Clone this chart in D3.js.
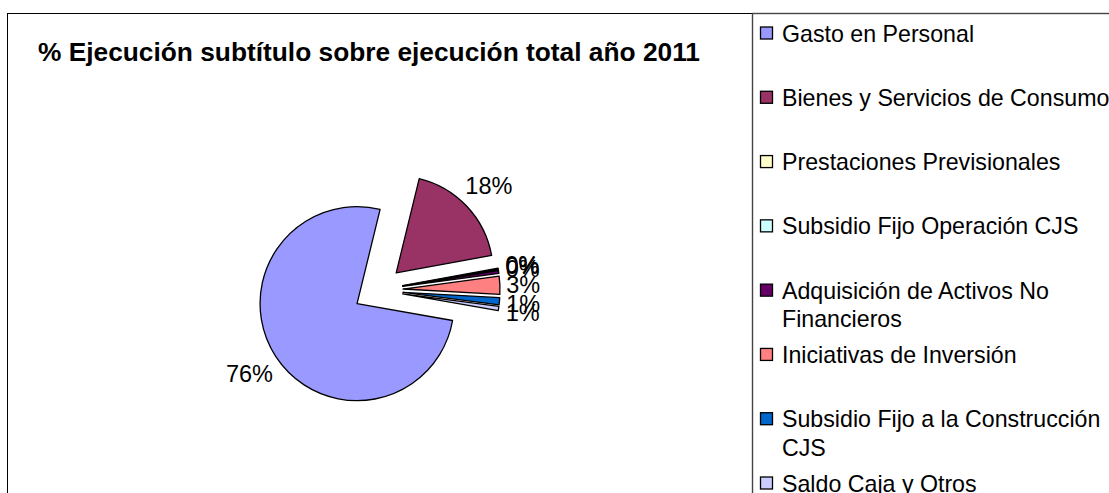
<!DOCTYPE html>
<html>
<head>
<meta charset="utf-8">
<script src="https://cdn.jsdelivr.net/npm/d3@7"></script>
<style>
  html, body { margin: 0; padding: 0; background: #fff; overflow: hidden; }
  svg { display: block; font-family: "Liberation Sans", Arial, sans-serif; }
</style>
</head>
<body>
<div id="chart"></div>
<script>
// % execution per budget subtitle, 2011 — exploded pie + legend on the right

const categories = [
  "Gasto en Personal",
  "Bienes y Servicios de Consumo",
  "Prestaciones Previsionales",
  "Subsidio Fijo Operación CJS",
  "Adquisición de Activos No Financieros",
  "Iniciativas de Inversión",
  "Subsidio Fijo a la Construcción CJS",
  "Saldo Caja y Otros",
];
// legend wraps the long names onto a second line
const legendLines = [
  ["Gasto en Personal"],
  ["Bienes y Servicios de Consumo"],
  ["Prestaciones Previsionales"],
  ["Subsidio Fijo Operación CJS"],
  ["Adquisición de Activos No", "Financieros"],
  ["Iniciativas de Inversión"],
  ["Subsidio Fijo a la Construcción", "CJS"],
  ["Saldo Caja y Otros"],
];
const values = [76.0, 18.3, 0.1, 0.2, 0.45, 3.0, 1.2, 0.7];
const colors = ["#9999FF", "#993366", "#FFFFCC", "#CCFFFF", "#660066", "#FF8080", "#0066CC", "#CCCCFF"];
const title = "% Ejecución subtítulo sobre ejecución total año 2011";

const W = 1109, H = 493;
const CX = 378, CY = 290, R = 97, EXPLODE = 25;
const START = 100 * Math.PI / 180;
const LABEL_FS = 23.5, LEGEND_FS = 23.2;

const svg = d3.select("#chart").append("svg").attr("width", W).attr("height", H);

// chart frame (runs past the window edges, like the cropped original)
svg.append("rect")
  .attr("x", 7.5).attr("y", 13.5).attr("width", 1300).attr("height", 700)
  .attr("fill", "#fff").attr("stroke", "#000").attr("stroke-width", 1);

svg.append("text")
  .attr("x", 38).attr("y", 61)
  .attr("font-size", 26.3).attr("font-weight", "bold")
  .attr("fill", "#000")
  .text(title);

// pie
const total = d3.sum(values);
const pie = d3.pie().sort(null).value((d) => d).startAngle(START).endAngle(START + 2 * Math.PI);
const arcs = pie(values);
const arc = d3.arc().innerRadius(0).outerRadius(R);

const gPie = svg.append("g").attr("transform", `translate(${CX},${CY})`);

const slices = gPie.selectAll("g.slice").data(arcs).enter().append("g")
  .attr("class", "slice")
  .attr("transform", (d) => {
    const m = (d.startAngle + d.endAngle) / 2;
    return `translate(${Math.sin(m) * EXPLODE},${-Math.cos(m) * EXPLODE})`;
  });

slices.append("path")
  .attr("d", arc)
  .attr("fill", (d, i) => colors[i])
  .attr("stroke", "#000")
  .attr("stroke-width", 1.3)
  .attr("stroke-linejoin", "round");

// data labels, placed just outside each slice along its bisector
slices.each(function (d) {
  const m = (d.startAngle + d.endAngle) / 2;
  const s = Math.sin(m), c = -Math.cos(m);
  const t = d3.select(this).append("text")
    .attr("font-size", LABEL_FS)
    .attr("fill", "#000")
    .attr("text-anchor", "middle")
    .text(Math.round(d.value / total * 100) + "%");
  const w = t.node().getComputedTextLength();
  const h = LABEL_FS * 0.9;
  const dist = R + 6 + (w / 2) * Math.abs(s) + (h / 2) * Math.abs(c);
  t.attr("x", s * dist).attr("y", c * dist + LABEL_FS * 0.36);
});

// legend
const LX = 752.5, LY = 13.5;
svg.append("rect")
  .attr("x", LX).attr("y", LY).attr("width", 600).attr("height", 700)
  .attr("fill", "#fff").attr("stroke", "#444").attr("stroke-width", 1.4);

const rowY = d3.scalePoint().domain(d3.range(categories.length)).range([41.5, 491.5]);

const items = svg.append("g").selectAll("g").data(categories).enter().append("g")
  .attr("transform", (d, i) => `translate(0,${rowY(i)})`);

items.append("rect")
  .attr("x", 760.5).attr("y", -14.5).attr("width", 12).attr("height", 12)
  .attr("fill", (d, i) => colors[i])
  .attr("stroke", "#000").attr("stroke-width", 1.3);

items.append("text")
  .attr("x", 782).attr("y", 0)
  .attr("font-size", LEGEND_FS)
  .attr("fill", "#000")
  .selectAll("tspan")
  .data((d, i) => legendLines[i])
  .enter().append("tspan")
  .attr("x", 782)
  .attr("dy", (d, j) => (j === 0 ? 0 : 28.5))
  .text((d) => d);
</script>
</body>
</html>
